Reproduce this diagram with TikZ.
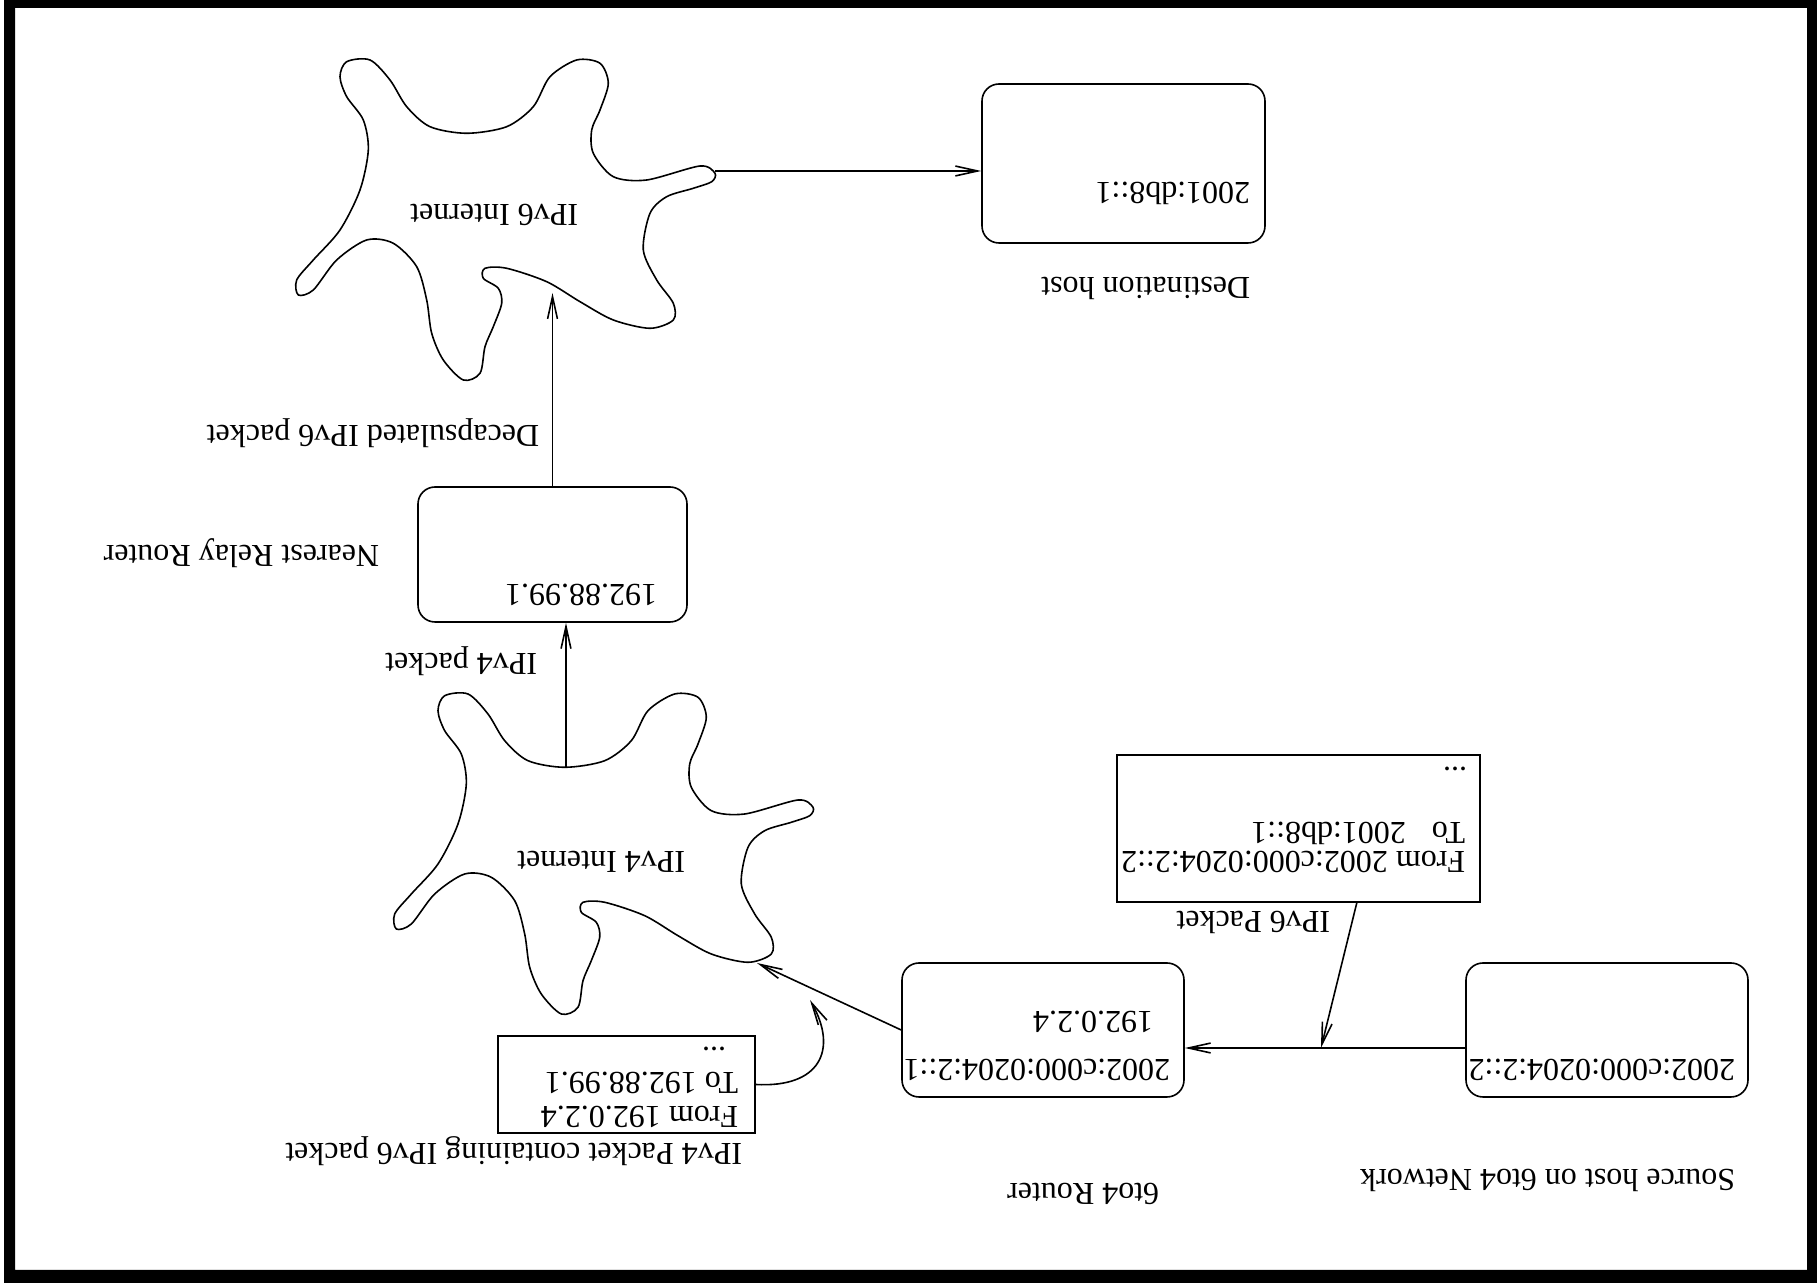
\documentclass[tikz,border=0pt]{standalone}
\usepackage{fontspec}
\setmainfont{Liberation Serif}
\usetikzlibrary{arrows.meta}

\newlength{\du}
\setlength{\du}{0.01cm}

\tikzset{
  hostbox/.style={draw, rounded corners=17\du, inner sep=0pt},
  pktbox/.style={draw, inner sep=0pt},
  lbl/.style={rotate=180, anchor=base west, inner sep=0pt,
    font=\fontsize{9.1}{11}\selectfont},
  flow/.style={-{Straight Barb[length=6.3pt,width=2.8pt]}},
}

\begin{document}
\begin{tikzpicture}[line width=1.6\du]
\pgftransformxscale{1.000000}
\pgftransformyscale{-1.000000}
\useasboundingbox (0\du,0\du) rectangle (1817\du,1283\du);
% frame
\fill[even odd rule] (4\du,0\du) rectangle (1817\du,1283\du)
  (15\du,8\du) rectangle (1807\du,1270\du);
% the two clouds, same outline
\foreach \dx/\dy in {0/0, 98/634} {
\draw[shift={(\dx\du,\dy\du)}] plot[smooth cycle] coordinates {
  (715.0\du,173.3\du) (700.0\du,166.0\du) (646.7\du,180.0\du) (613.3\du,176.7\du)
  (593.3\du,153.3\du) (591.7\du,130.0\du) (600.0\du,110.0\du) (608.3\du,83.3\du)
  (600.0\du,63.3\du) (576.7\du,60.0\du) (550.0\du,76.7\du) (533.3\du,106.7\du)
  (506.7\du,126.7\du) (466.7\du,133.3\du) (430.0\du,126.7\du) (406.7\du,106.7\du)
  (390.0\du,80.0\du) (370.0\du,60.0\du) (346.7\du,61.7\du) (340.0\du,76.7\du)
  (346.7\du,96.7\du) (363.3\du,120.0\du) (368.3\du,150.0\du) (360.0\du,190.0\du)
  (340.0\du,230.0\du) (313.3\du,260.0\du) (296.7\du,280.0\du) (298.3\du,295.0\du)
  (313.3\du,290.0\du) (336.7\du,260.0\du) (366.7\du,240.0\du) (393.3\du,243.3\du)
  (416.7\du,266.7\du) (426.7\du,300.0\du) (431.7\du,333.3\du) (443.3\du,360.0\du)
  (463.3\du,380.0\du) (480.0\du,373.3\du) (485.0\du,346.7\du) (493.3\du,326.7\du)
  (501.7\du,303.3\du) (498.3\du,288.3\du) (483.3\du,278.3\du) (485.0\du,268.3\du)
  (506.7\du,268.3\du) (546.7\du,281.7\du) (580.0\du,301.7\du) (613.3\du,320.0\du)
  (650.0\du,328.3\du) (673.3\du,320.0\du) (673.3\du,303.3\du) (656.7\du,280.0\du)
  (643.3\du,250.0\du) (650.0\du,213.3\du) (666.7\du,196.7\du) (693.3\du,188.3\du)
  (711.7\du,181.7\du)};
}
\coordinate (vsixtip) at (715.0\du,171.0\du);
\coordinate (vsixin) at (552.5\du,293.0\du);
\coordinate (vfournotch) at (566.0\du,767.0\du);
\coordinate (vfourlobe) at (757.0\du,963.0\du);
\coordinate (pktjoin) at (1321.0\du,1048.0\du);
\coordinate (pktfoot) at (1357.0\du,902.0\du);
\coordinate (bendtip) at (810.0\du,1000.0\du);
% boxes
\node[hostbox, minimum width=283\du, minimum height=159\du] (dest) at (1123.5\du,163.5\du) {};
\node[hostbox, minimum width=269\du, minimum height=135\du] (relay) at (552.5\du,554.5\du) {};
\node[hostbox, minimum width=282\du, minimum height=134\du] (router) at (1043.0\du,1030.0\du) {};
\node[hostbox, minimum width=282\du, minimum height=134\du] (source) at (1607.0\du,1030.0\du) {};
\node[pktbox, minimum width=363\du, minimum height=147\du] (vsixpkt) at (1298.5\du,828.5\du) {};
\node[pktbox, minimum width=257\du, minimum height=97\du] (vfourpkt) at (626.5\du,1084.5\du) {};
% texts
\node[lbl] (destaddr) at (1251.0\du,183.0\du) {2001:db8::1};
\node[lbl] (destname) at (1251.0\du,278.0\du) {Destination host};
\node[lbl] (vsixname) at (579.0\du,205.0\du) {IPv6 Internet};
\node[lbl] (decap) at (540.0\du,426.0\du) {Decapsulated IPv6 packet};
\node[lbl] (relayname) at (380.0\du,546.0\du) {Nearest Relay Router};
\node[lbl] (relayaddr) at (658.0\du,585.0\du) {192.88.99.1};
\node[lbl] (vfourlbl) at (538.0\du,654.0\du) {IPv4 packet};
\node[lbl] (vfourname) at (686.0\du,852.0\du) {IPv4 Internet};
\node[lbl] (sixfrom) at (1466.0\du,852.0\du) {From 2002:c000:0204:2::2};
\node[lbl] (sixto) at (1466.0\du,823.0\du) {To\hspace{26\du}2001:db8::1};
\node[lbl] (sixdots) at (1468.0\du,768.0\du) {...};
\node[lbl] (sixpktname) at (1331.0\du,912.0\du) {IPv6 Packet};
\node[lbl] (rtrvsix) at (1171.0\du,1060.0\du) {2002:c000:0204:2::1};
\node[lbl] (rtrvfour) at (1154.0\du,1012.0\du) {192.0.2.4};
\node[lbl] (rtrname) at (1160.0\du,1184.0\du) {6to4 Router};
\node[lbl] (srcaddr) at (1736.0\du,1060.0\du) {2002:c000:0204:2::2};
\node[lbl] (srcname) at (1736.0\du,1170.0\du) {Source host on 6to4 Network};
\node[lbl] (fourfrom) at (739.0\du,1107.0\du) {From 192.0.2.4};
\node[lbl] (fourto) at (739.0\du,1073.0\du) {To 192.88.99.1};
\node[lbl] (fourdots) at (727.0\du,1048.0\du) {...};
\node[lbl] (fourpktname) at (743.0\du,1144.0\du) {IPv4 Packet containing IPv6 packet};
% connectors
\draw[flow] (vsixtip) -- (vsixtip -| dest.west);
\draw[flow] (relay.north) -- (vsixin);
\draw[flow] (vfournotch) -- (vfournotch |- relay.south);
\draw[flow] (router.west) -- (vfourlobe);
\draw[flow] (source.west |- pktjoin) -- (router.east |- pktjoin);
\draw[flow] (pktfoot) -- (pktjoin);
\draw[flow] (vfourpkt.east) .. controls (820.0\du,1088.0\du) and (838.0\du,1050.0\du) .. (bendtip);
\end{tikzpicture}
\end{document}
